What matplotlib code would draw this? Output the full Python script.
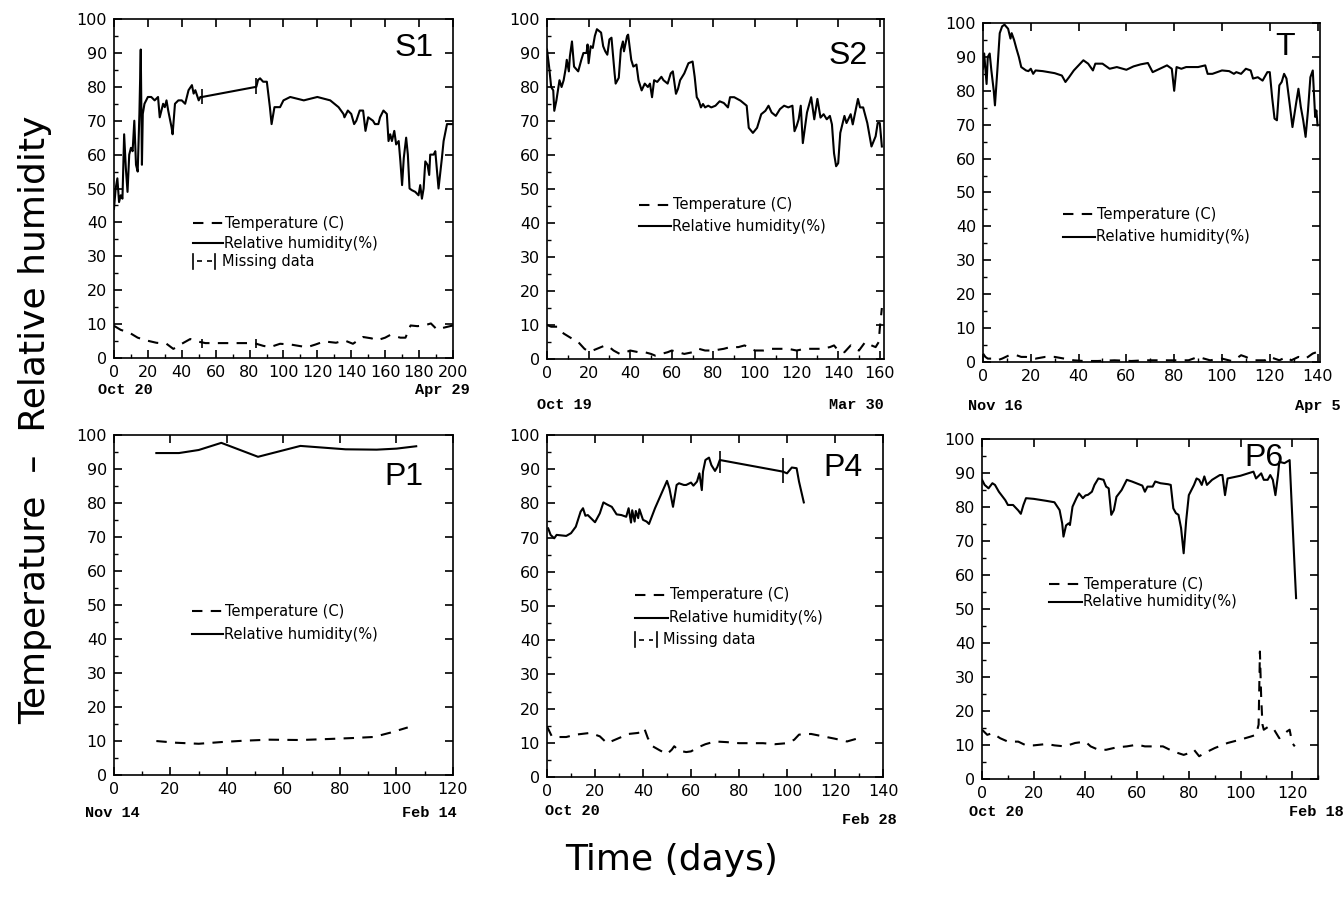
import numpy as np
import matplotlib
matplotlib.use('Agg')
import matplotlib.pyplot as plt
from matplotlib.ticker import MultipleLocator

plt.rcParams.update({
    'font.family': 'DejaVu Sans',
    'xtick.labelsize': 11.5,
    'ytick.labelsize': 11.5,
    'axes.linewidth': 1.2,
})

# ---- S1 (Oct 20 - Apr 29) ----
s1_rh_day = [0, 1, 2, 3, 4, 5, 6, 7, 8, 9, 10, 11, 12, 13, 14, 15, 15.8, 16.5, 17, 18, 19, 20, 22, 24, 26,
             27, 29, 30, 31, 32, 34, 34.6, 36, 38, 40, 42, 44, 46, 47, 48, 50, 51, 52, 84, 85, 86.2, 88, 90.2,
             92, 93, 94.7, 98, 100, 104, 112, 120, 127.6, 132.5, 135.4, 136, 138, 140, 141.7, 143, 145, 147,
             148.4, 150, 152.8, 154, 156, 157, 159, 161, 162, 163, 164, 165.4, 166.5, 168, 169, 170, 171,
             172.4, 173.4, 174.4, 175.8, 177.8, 179.7, 180.7, 181.7, 182.7, 183.7, 185, 186, 186.6, 188.6,
             189.6, 191.5, 193.5, 194.5, 196.5, 200]
s1_rh = [44, 50, 53, 46, 48, 47, 66, 56, 49, 60, 62, 61, 70, 57, 55, 72, 91, 57, 72, 75, 76, 77, 77, 76, 77,
         71, 75, 74, 76, 73, 68, 66, 75, 76, 76, 75, 79, 80.5, 78, 79, 76, 77, 77, 80, 82, 82.5, 81.5, 81.5,
         74, 69, 74, 74, 76, 77, 76, 77, 76, 74, 72, 71, 73, 72, 69, 70, 73, 73,
         67, 71, 70, 69, 69, 71, 73, 72, 64, 66, 64, 67, 63, 64, 58, 51, 59,
         65, 60, 50, 49.5, 49, 48, 51, 47, 50, 58, 57, 54, 60, 60,
         61, 50, 59, 64, 69, 69]
s1_t_day = [0, 4, 9, 14, 19, 25, 31, 35, 37, 40, 45, 50, 54, 60, 70, 80, 84, 88, 92, 98, 104, 110, 114, 119,
            124, 131, 136, 141, 147, 152, 155, 160, 163, 169, 172, 175, 179, 183, 187, 190.6, 195, 200]
s1_t = [9.5, 8.3, 7.5, 6, 5.2, 4.5, 4.2, 2.7, 3.2, 4.2, 5.6, 4.8, 4.4, 4.4, 4.4, 4.4, 4.2, 3.6, 3.2, 4.2,
        4.0, 3.5, 3.2, 4, 4.9, 4.5, 5.2, 4.2, 6.2, 5.8, 5.2, 6.0, 6.8, 6.0, 6.0, 9.6, 9.4, 9.6, 10.2, 8.4,
        9.0, 9.6]
s1_gap_day = [52, 84]
s1_gap_rh_lo = [75, 78]
s1_gap_rh_hi = [79.5, 82.5]
s1_gap_t_lo = [3, 3]
s1_gap_t_hi = [5.5, 5.5]

# ---- S2 (Oct 19 - Mar 30) ----
s2_rh_day = [0, 1, 2, 3, 3.5, 4.5, 6, 7, 8, 9, 9.5, 10.5, 11, 12, 13, 15, 16.5, 17.5, 19, 19.5, 20, 21, 22,
             23, 24, 26, 27, 28, 29, 30, 31, 32.5, 33, 34.5, 35.5, 36.5, 37, 38.5, 39, 40.5, 41.5, 43, 44,
             45.5, 47, 48.5, 49.5, 50.5, 51.5, 53, 55, 56, 58, 59.5, 60.5, 62, 63, 64, 66, 68, 70, 71, 72,
             73, 74, 75, 76, 77.5, 79, 81, 83, 85, 87, 88, 90, 93, 96, 97, 99, 101, 103, 105, 106.5, 108,
             110, 112, 114, 116, 118, 119, 120, 121, 122, 123, 125, 127, 128.5, 130, 131.5, 133, 134.5, 136,
             137, 138, 139, 140, 141, 143, 144, 146, 147, 148.5, 149.5, 150.5, 152, 154, 156, 158, 159, 160,
             161]
s2_rh = [91, 86, 80, 79, 73, 76, 82, 80, 82, 85.5, 88, 84.6, 89, 93.4, 86, 84.6, 88, 90, 90, 92.5, 87, 92,
         91.5, 95, 97, 96, 92, 90.5, 89.5, 94, 94.5, 84, 81, 82.7, 91, 93.4, 90.5, 95, 95.4, 88, 86, 86.6,
         82, 79, 81, 80, 81, 77, 82, 81.5, 83, 82, 81, 84, 84.6, 78, 79.5, 82, 84, 87, 87.5, 83, 77, 76,
         74, 75, 74, 74.5, 74, 74.5, 75.8, 75.3, 74, 77, 77, 76, 74.5, 68, 66.5, 68, 72, 73, 74.5, 72.5,
         71.5, 73.5, 74.5, 74, 74.5, 67, 68.5, 70.5, 74.5, 63.5, 72.5, 77, 70.5, 76.5, 71, 72, 70.5, 71.5,
         69, 60.5, 56.7, 57.6, 66.5, 71.5, 69.4, 72, 69, 73.5, 76.5, 74, 74, 69.4, 62.5, 65.5, 69.4, 69.4,
         62.5]
s2_t_day = [0, 2, 5, 8, 12, 15, 18, 20, 22, 24, 28, 30, 32, 35, 38, 40, 44, 47, 50, 52, 55, 58, 60, 63, 66,
            70, 73, 76, 80, 85, 88, 92, 95, 98, 100, 104, 108, 112, 116, 120, 124, 128, 132, 136, 138, 140,
            143, 146, 148, 150, 153, 156, 158, 159.5, 160, 161]
s2_t = [10, 9.5, 9.5, 7.5, 6, 5, 3, 2.2, 2.5, 3, 4, 3.5, 2.5, 1.5, 2, 2.5, 2, 2, 1.5, 1, 1.5, 2, 2.5, 2, 1.5,
        2, 3, 2.5, 2.5, 3, 3.5, 3.5, 4, 3, 2.5, 2.5, 3, 3, 3, 2.5, 3, 3, 3, 3.5, 4, 2.5,
        2, 4, 3, 2.5, 5, 4, 3.5, 5, 9, 15]

# ---- T (Nov 16 - Apr 5) ----
t_rh_day = [0, 0.5, 1.5, 2, 2.8, 3.5, 4.5, 5, 6, 7, 8, 9, 10.5, 11.5, 12, 13, 14, 15, 16, 17, 18, 19, 20, 21,
            22, 25, 30, 33, 34.5, 36, 38, 40, 42, 44, 46, 47, 50, 53, 56, 60, 63, 66, 69, 71, 74, 77, 79,
            80, 81, 83, 85, 90, 93, 94, 96, 98, 100, 103, 105, 106, 108, 110, 112, 113, 115, 117, 119, 120,
            121, 122, 123, 124, 125, 126, 127, 128.5, 129.5, 131, 132, 133, 134, 135, 136, 137, 138, 139,
            139.5, 140]
t_rh = [86.5, 91, 82, 90, 91, 86, 80, 75.7, 86, 97, 99, 99.5, 98.3, 95.4, 97, 95, 92.4, 90, 87, 86.5, 86,
        85.8, 86.5, 85, 86, 85.8, 85.2, 84.5, 82.6, 84, 86, 87.5, 89, 88, 86, 88, 88, 86.5, 87, 86.2, 87.2,
        87.8, 88.2, 85.5, 86.5, 87.5, 86.5, 80, 87, 86.5, 87, 87, 87.5, 85, 85, 85.5, 86, 85.8, 85, 85.5,
        85, 86.5, 86, 83.6, 84, 83, 85.5, 85.5, 78, 71.8, 71.3, 81.6, 82.6, 85, 83.6, 75.2, 69.3, 76.2,
        80.6, 75.2, 71.3, 66.4, 74.2, 84, 86, 72.3, 74.2, 69.8]
t_t_day = [0, 1, 2, 4, 6, 8, 11, 14, 16, 18, 22, 26, 30, 34, 38, 42, 48, 55, 62, 68, 74, 80, 86, 90, 95, 100,
           104, 106, 108, 110, 113, 118, 120, 124, 127, 129, 132, 135, 138, 140]
t_t = [2.5, 1.5, 1, 1, 0.5, 1, 2, 2, 1.5, 1.5, 1, 1.5, 1.5, 1, 0.5, 0.3, 0.3, 0.5, 0.3, 0.5, 0.5, 0.5, 0.5,
       1.5, 0.5, 1, 0.3, 1, 2, 1.5, 0.5, 0.5, 1.5, 0.5, 1.5, 0.5, 1.5, 1, 2.5, 3]

# ---- P1 (Nov 14 - Feb 14) ----
p1_rh_day = [15, 23, 30, 38, 51, 66, 82, 93, 100, 107]
p1_rh = [94.7, 94.7, 95.6, 97.7, 93.6, 96.8, 95.8, 95.7, 96.0, 96.7]
p1_t_day = [15, 22, 30, 38, 46, 55, 66, 76, 85, 92, 98, 104]
p1_t = [10, 9.5, 9.2, 9.7, 10.1, 10.4, 10.3, 10.6, 10.9, 11.2, 12.5, 14]

# ---- P4 (Oct 20 - Feb 28) ----
p4_rh_day = [0.5, 1.5, 3, 4, 8, 10, 12, 14, 15, 16, 17, 20, 22, 23.5, 25, 27, 29, 31, 33, 34, 35, 35.5, 36.5,
             37, 38, 38.5, 40, 41.5, 42.5, 45, 48, 50, 51, 52.5, 54, 55, 57, 58, 60, 61, 62.5, 63.5, 64.5,
             65, 66, 67.5, 68.5, 70, 71, 72, 98.3, 100, 102, 104, 105, 107]
p4_rh = [72.7, 70.8, 69.8, 70.8, 70.5, 71.3, 73.2, 77.6, 78.6, 76.4, 76.6, 74.5, 77.1, 80.3, 79.7, 79, 76.8,
         76.6, 76.1, 78.6, 74.4, 78, 74.7, 77.8, 75.7, 78.3, 75.2, 74.7, 74, 78.6, 83.4, 86.6, 84.4, 79,
         85.4, 85.9, 85.4, 85.4, 86.1, 85.2, 86.4, 88.8, 83.9, 89.3, 92.7, 93.4, 91.2, 89.5, 90.7, 92.7,
         89.3, 88.8, 90.5, 90.3, 86.4, 80.3]
p4_t_day = [0, 2, 5, 8, 12, 18, 22, 25, 30, 34, 38, 40.5, 42, 44, 47, 50, 52, 53, 55, 58, 60, 63, 66, 70, 75,
            80, 85, 90, 95, 100, 103, 105, 110, 115, 120, 125, 130]
p4_t = [14.8, 11.9, 11.7, 11.7, 12.4, 12.9, 11.9, 9.9, 11.4, 12.6, 12.9, 14.3, 11.4, 9, 7.8, 6.7, 8, 9, 7.7,
        7.3, 7.5, 8.7, 9.6, 10.4, 10.2, 9.9, 9.9, 9.9, 9.6, 9.9, 10.9, 12.4, 12.6, 11.9, 11.2, 10.4, 11.4]
p4_gap_day = [72, 98.3]
p4_gap_rh_lo = [88.8, 85.9]
p4_gap_rh_hi = [95.3, 93.2]

# ---- P6 (Oct 20 - Feb 18) ----
p6_rh_day = [0, 1, 2.5, 4, 5, 6.5, 8, 9, 10, 12, 14, 15, 16, 17, 20, 25, 28, 30, 31, 31.5, 32.5, 33.5, 34, 35,
             36.5, 37.5, 39, 40, 41, 42.5, 43.5, 45, 47, 48, 49, 50, 51, 52, 54, 56, 58, 62, 63, 64, 66, 67,
             69, 72, 73, 74, 75, 76, 77, 78, 79, 80, 82, 83, 84, 85, 86, 87, 89, 92, 93, 94, 95, 100, 105,
             106, 108, 109, 110.5, 111.5, 112.5, 113.5, 114.5, 115, 117, 119, 121, 121.5]
p6_rh = [88, 86.5, 85.5, 87, 86.5, 84.5, 83, 82, 80.6, 80.6, 79, 78, 80.6, 82.6, 82.4, 81.8, 81.4, 79.1,
         75.2, 71.3, 74.6, 75.2, 74.7, 80.1, 82.6, 84, 82.6, 83.4, 83.6, 84.5, 86.5, 88.4, 88, 86, 85.5,
         77.7, 79.1, 83, 85, 88, 87.5, 86.3, 84.5, 86, 86, 87.5, 87, 86.7, 86.5, 79.6, 78.2, 77.7, 73.8,
         66.4, 76.2, 83.5, 86.5, 88.4, 88, 86.5, 89, 86.5, 88, 89.4, 89.4, 83.5, 88.4, 89.2, 90.4, 88.4,
         89.9, 88, 88, 89.4, 88, 83.5, 89.4, 93.3, 92.9, 93.8, 61, 53.2]
p6_t_day = [0, 2, 4, 7, 10, 14, 17, 20, 25, 28, 32, 36, 40, 42, 45, 48, 52, 56, 60, 63, 66, 70, 74, 78, 80,
            82, 84, 86, 90, 95, 100, 104, 106, 107, 107.5, 108, 108.5, 109, 111, 113, 115, 118, 119, 120,
            121]
p6_t = [14.5, 13, 13.5, 12, 11, 11, 9.9, 9.9, 10.3, 9.9, 9.6, 10.6, 11, 9.6, 8.6, 8.6, 9.3, 9.6, 10.1, 9.6,
        9.6, 9.6, 8.1, 7.1, 7.6, 8.6, 6.7, 7.6, 9.1, 10.6, 11.6, 12.5, 13, 16, 37.5, 23.8, 16, 14.5, 15.5,
        14.5, 12, 14, 14.5, 10.6, 9.6]

DASH = (0, (5, 4))

fig = plt.figure(figsize=(13.44, 9.05), dpi=100)


def make_panel(rect, xmax, name, name_pos, start, start_pos, end, end_pos):
    ax = fig.add_axes(rect)
    ax.set_xlim(0, xmax)
    ax.set_ylim(0, 100)
    ax.xaxis.set_major_locator(MultipleLocator(20))
    ax.xaxis.set_minor_locator(MultipleLocator(10))
    ax.yaxis.set_major_locator(MultipleLocator(10))
    ax.yaxis.set_minor_locator(MultipleLocator(5))
    ax.tick_params(which='major', direction='in', length=6, width=1.2,
                   top=True, right=True, pad=5)
    ax.tick_params(which='minor', direction='in', length=3, width=1.0,
                   top=False, right=False)
    ax.text(name_pos[0], name_pos[1], name, transform=ax.transAxes, fontsize=23,
            family='Liberation Sans', ha='center', va='center')
    ax.text(start_pos[0], start_pos[1], start, transform=ax.transAxes, fontsize=11,
            family='Liberation Mono', weight='bold', ha='left', va='center')
    ax.text(end_pos[0], end_pos[1], end, transform=ax.transAxes, fontsize=11,
            family='Liberation Mono', weight='bold', ha='right', va='center')
    return ax


def draw_key(ax, x0, x1, ys, missing=False):
    tr = ax.transAxes
    ax.plot([x0, x1], [ys[0], ys[0]], transform=tr, color='black', lw=1.5, ls=DASH)
    ax.text(x1 + 0.006, ys[0], 'Temperature (C)', transform=tr, fontsize=10.5, va='center')
    ax.plot([x0, x1], [ys[1], ys[1]], transform=tr, color='black', lw=1.5)
    ax.text(x1 + 0.003, ys[1], 'Relative humidity(%)', transform=tr, fontsize=10.5, va='center')
    if missing:
        ax.plot([x0 + 0.012, x0 + 0.055], [ys[2], ys[2]], transform=tr, color='black', lw=1.2,
                ls=(0, (3, 3)))
        ax.plot([x0, x0], [ys[2] - 0.022, ys[2] + 0.022], transform=tr, color='black', lw=1.2)
        ax.plot([x0 + 0.065, x0 + 0.065], [ys[2] - 0.022, ys[2] + 0.022], transform=tr,
                color='black', lw=1.2)
        ax.text(x0 + 0.085, ys[2], 'Missing data', transform=tr, fontsize=10.5, va='center')


# S1
ax = make_panel([0.0848, 0.6044, 0.2522, 0.3746], 200, 'S1', (0.884, 0.914),
                'Oct 20', (-0.047, -0.094), 'Apr 29', (1.05, -0.094))
ax.plot(s1_rh_day, s1_rh, color='black', lw=1.5)
ax.plot(s1_t_day, s1_t, color='black', lw=1.5, ls=DASH)
ax.vlines(s1_gap_day, s1_gap_rh_lo, s1_gap_rh_hi, color='black', lw=1.2)
ax.vlines(s1_gap_day, s1_gap_t_lo, s1_gap_t_hi, color='black', lw=1.2)
draw_key(ax, 0.234, 0.323, [0.398, 0.339, 0.285], missing=True)

# S2
ax = make_panel([0.407, 0.6033, 0.2507, 0.3757], 162, 'S2', (0.893, 0.89),
                'Oct 19', (-0.03, -0.135), 'Mar 30', (1.0, -0.135))
ax.plot(s2_rh_day, s2_rh, color='black', lw=1.5)
ax.plot(s2_t_day, s2_t, color='black', lw=1.5, ls=DASH)
draw_key(ax, 0.274, 0.369, [0.454, 0.39])

# T
ax = make_panel([0.7314, 0.6, 0.2507, 0.3746], 141, 'T', (0.896, 0.929),
                'Nov 16', (-0.045, -0.13), 'Apr 5', (1.06, -0.13))
ax.plot(t_rh_day, t_rh, color='black', lw=1.5)
ax.plot(t_t_day, t_t, color='black', lw=1.5, ls=DASH)
draw_key(ax, 0.238, 0.332, [0.436, 0.369])

# P1
ax = make_panel([0.0848, 0.1436, 0.2522, 0.3757], 120, 'P1', (0.854, 0.876),
                'Nov 14', (-0.085, -0.112), 'Feb 14', (1.01, -0.112))
ax.plot(p1_rh_day, p1_rh, color='black', lw=1.5)
ax.plot(p1_t_day, p1_t, color='black', lw=1.5, ls=DASH)
draw_key(ax, 0.229, 0.323, [0.482, 0.414])

# P4
ax = make_panel([0.407, 0.1414, 0.25, 0.3779], 140, 'P4', (0.881, 0.903),
                'Oct 20', (-0.006, -0.10), 'Feb 28', (1.04, -0.126))
ax.plot(p4_rh_day, p4_rh, color='black', lw=1.5)
ax.plot(p4_t_day, p4_t, color='black', lw=1.5, ls=DASH)
ax.vlines(p4_gap_day, p4_gap_rh_lo, p4_gap_rh_hi, color='black', lw=1.2)
draw_key(ax, 0.261, 0.36, [0.533, 0.466, 0.401], missing=True)

# P6
ax = make_panel([0.7307, 0.1392, 0.25, 0.3757], 130, 'P6', (0.838, 0.943),
                'Oct 20', (-0.04, -0.097), 'Feb 18', (1.077, -0.097))
ax.plot(p6_rh_day, p6_rh, color='black', lw=1.5)
ax.plot(p6_t_day, p6_t, color='black', lw=1.5, ls=DASH)
draw_key(ax, 0.2, 0.296, [0.573, 0.522])

fig.text(0.026, 0.536, 'Temperature  \u2013  Relative humidity', rotation=90,
         fontsize=26, ha='center', va='center')
fig.text(0.5, 0.05, 'Time (days)', fontsize=26, ha='center', va='center')

fig.savefig('out.png', dpi=100)
